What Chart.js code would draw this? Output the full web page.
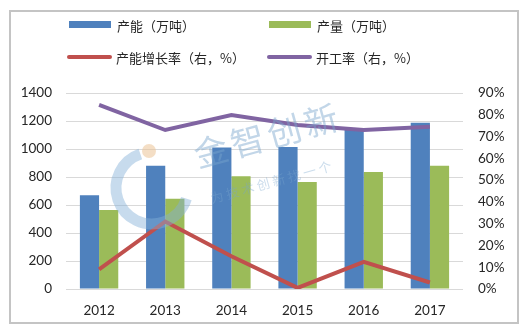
<!DOCTYPE html>
<html>
<head>
<meta charset="utf-8">
<script src="https://cdn.jsdelivr.net/npm/chart.js@4.4.1/dist/chart.umd.min.js"></script>
<style>
  body { margin: 0; background: #fff; }
  #wrap { width: 525px; height: 334px; }
</style>
</head>
<body>
<div id="wrap"><canvas id="chart" width="525" height="334"></canvas></div>
<script>
const years = ['2012', '2013', '2014', '2015', '2016', '2017'];
const capacity = [670, 880, 1010, 1015, 1140, 1188];      // 万吨
const output = [565, 645, 805, 765, 836, 881];            // 万吨
const capacityGrowth = [9, 31, 15, 0.5, 12.5, 3];         // %
const utilization = [84.5, 73, 79.9, 75.3, 73, 74.5];     // %

const leftTicks = { min: 0, max: 1400, step: 200 };
const rightTicks = { min: 0, max: 90, step: 10 };

const tickFont = { family: 'Lato', size: 13.5 };
const cjkFont = '13px "Noto Sans CJK SC"';

// frame round the whole figure
const framePlugin = {
  id: 'frame',
  beforeDraw(chart) {
    const ctx = chart.ctx;
    ctx.save();
    ctx.fillStyle = '#fff';
    ctx.fillRect(0, 0, chart.width, chart.height);
    ctx.strokeStyle = '#c4c4c4';
    ctx.lineWidth = 2;
    ctx.strokeRect(10, 11, 508, 312);
    ctx.restore();
  }
};

// two-row legend at the top
const legendPlugin = {
  id: 'twoRowLegend',
  afterDraw(chart) {
    const ctx = chart.ctx;
    const spots = [[69, 25], [269, 25], [68, 57], [268, 57]];
    ctx.save();
    ctx.font = cjkFont;
    ctx.textBaseline = 'middle';
    chart.data.datasets.forEach((ds, i) => {
      const [x, y] = spots[i];
      if (ds.type === 'line') {
        ctx.strokeStyle = ds.borderColor;
        ctx.lineWidth = 4;
        ctx.lineCap = 'round';
        ctx.beginPath();
        ctx.moveTo(x + 1, y);
        ctx.lineTo(x + 42, y);
        ctx.stroke();
      } else {
        ctx.fillStyle = ds.backgroundColor;
        ctx.fillRect(x, y - 4, 42, 7);
      }
      ctx.fillStyle = '#262626';
      ctx.fillText(ds.label, x + 48, y + 1);
    });
    ctx.restore();
  }
};

// faint company watermark over the plot
const watermarkPlugin = {
  id: 'watermark',
  afterDatasetsDraw(chart) {
    const ctx = chart.ctx;
    ctx.save();
    ctx.strokeStyle = 'rgba(130,175,215,0.45)';
    ctx.lineWidth = 11;
    ctx.beginPath();
    ctx.arc(152, 188, 36, -1.9, 0.3, true);
    ctx.stroke();
    ctx.fillStyle = 'rgba(235,195,150,0.55)';
    ctx.beginPath();
    ctx.arc(149, 151, 7, 0, Math.PI * 2);
    ctx.fill();

    ctx.translate(198, 168);
    ctx.rotate(-0.27);
    ctx.fillStyle = 'rgba(120,165,205,0.45)';
    ctx.font = '34px "Noto Sans CJK SC"';
    '金智创新'.split('').forEach((ch, i) => ctx.fillText(ch, i * 38, 0));
    ctx.font = '13px "Noto Sans CJK SC"';
    ctx.fillStyle = 'rgba(120,165,205,0.38)';
    '为技术创新找一个'.split('').forEach((ch, i) => ctx.fillText(ch, 4 + i * 16, 38));
    ctx.restore();
  }
};

new Chart(document.getElementById('chart'), {
  data: {
    labels: years,
    datasets: [
      { type: 'bar', label: '产能（万吨）', data: capacity, backgroundColor: '#4F81BD', yAxisID: 'y', order: 2 },
      { type: 'bar', label: '产量（万吨）', data: output, backgroundColor: '#9BBB59', yAxisID: 'y', order: 2 },
      { type: 'line', label: '产能增长率（右，%）', data: capacityGrowth, borderColor: '#C0504D', backgroundColor: '#C0504D',
        borderWidth: 4, pointRadius: 0, tension: 0, yAxisID: 'y1', order: 1 },
      { type: 'line', label: '开工率（右，%）', data: utilization, borderColor: '#8064A2', backgroundColor: '#8064A2',
        borderWidth: 4, pointRadius: 0, tension: 0, yAxisID: 'y1', order: 1 }
    ]
  },
  options: {
    responsive: false,
    animation: false,
    layout: { padding: { top: 93, bottom: 17, left: 0, right: 0 } },
    datasets: { bar: { categoryPercentage: 0.58, barPercentage: 1 } },
    plugins: { legend: { display: false }, tooltip: { enabled: false } },
    scales: {
      x: {
        grid: { display: false, drawTicks: false },
        border: { display: false },
        ticks: { font: tickFont, color: '#262626', padding: 14 },
        afterFit(s) { s.height = 28; }
      },
      y: {
        position: 'left',
        min: leftTicks.min, max: leftTicks.max,
        ticks: { stepSize: leftTicks.step, font: tickFont, color: '#262626', padding: 14,
                 callback: v => String(v) },
        grid: { color: '#d9d9d9', drawTicks: false },
        border: { display: false },
        afterFit(s) { s.width = 66; }
      },
      y1: {
        position: 'right',
        min: rightTicks.min, max: rightTicks.max,
        ticks: { stepSize: rightTicks.step, font: tickFont, color: '#262626', padding: 15,
                 callback: v => v + '%' },
        grid: { display: false, drawTicks: false },
        border: { display: false },
        afterFit(s) { s.width = 62; }
      }
    }
  },
  plugins: [framePlugin, legendPlugin, watermarkPlugin]
});
</script>
</body>
</html>
